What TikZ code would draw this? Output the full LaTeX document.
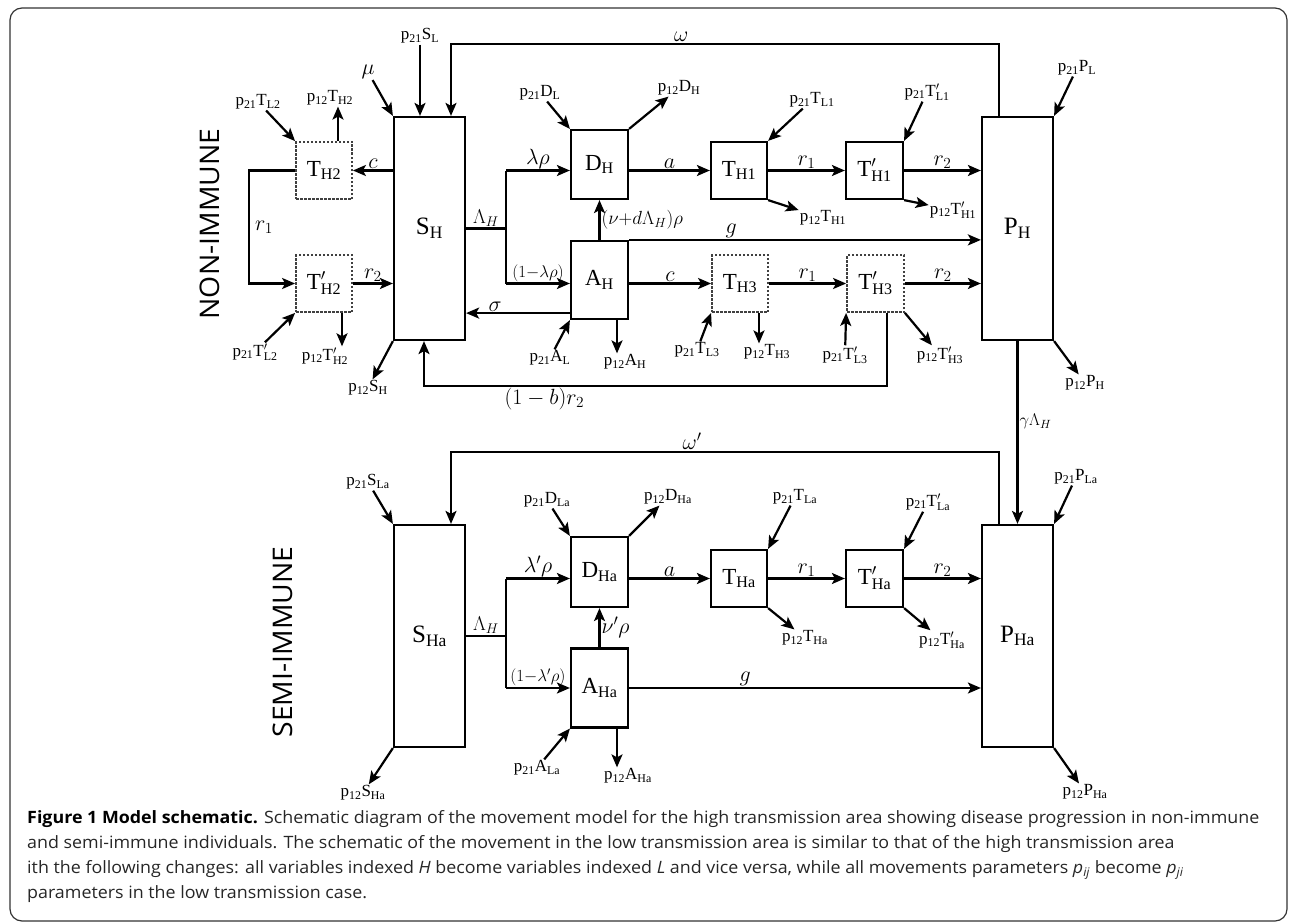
\RequirePackage{fix-cm}
\documentclass[tikz,border=0pt]{standalone}
\usepackage{fontspec}
\setmainfont{Liberation Serif}
\setmathrm{Liberation Serif}
\newfontfamily\capfont[FakeStretch=1.05]{Open Sans}
\usetikzlibrary{arrows.meta, positioning}

\begin{document}
\begin{tikzpicture}[x=1pt, y=-1pt,
        every node/.style={inner sep=1pt},
        box/.style={draw, line width=2.2pt, inner sep=0pt, font=\fontsize{23}{26}\selectfont},
        dbox/.style={box, draw=black!75, line width=1.8pt, dash pattern=on 2.5pt off 1.5pt},
        tall/.style={box, minimum width=71pt, minimum height=223pt, font=\fontsize{25}{28}\selectfont},
        sq/.style={minimum width=57pt, minimum height=57pt},
        arr/.style={-{Stealth[length=13pt, width=11pt, inset=3pt]}, line width=2.2pt},
        ln/.style={line width=2.2pt},
        plab/.style={font=\fontsize{17}{19}\selectfont},
        rate/.style={font=\fontsize{22}{24}\selectfont},
        srate/.style={font=\fontsize{17}{19}\selectfont},
        side/.style={font=\capfont\fontsize{27}{30}\selectfont, rotate=90}
    ]
    \useasboundingbox (0,0) rectangle (1290,923);
    \draw[black!80, line width=1.2pt, rounded corners=12pt] (10,8) rectangle (1287,921);

    % non-immune
    \node[side] (nonimm) at (210,224) {NON-IMMUNE};
    \node[tall] (SH) at (429.5,228.5) {$\mathrm{S_H}$};
    \node[dbox, sq, minimum width=56pt] (TH2) at (324,170.5) {$\mathrm{T_{H2}}$};
    \node[dbox, sq, minimum width=56pt] (TH2p) at (324,283.5) {$\mathrm{T'_{H2}}$};
    \node[box, minimum width=57pt, minimum height=69pt] (DH) at (599.5,164.5) {$\mathrm{D_H}$};
    \node[box, minimum width=57pt, minimum height=78pt] (AH) at (599.5,280) {$\mathrm{A_H}$};
    \node[box, sq, minimum width=56pt] (TH1) at (739,170.5) {$\mathrm{T_{H1}}$};
    \node[box, sq] (TH1p) at (874.5,170.5) {$\mathrm{T'_{H1}}$};
    \node[dbox, sq, minimum width=56pt] (TH3) at (740,283.5) {$\mathrm{T_{H3}}$};
    \node[dbox, sq] (TH3p) at (875.5,283.5) {$\mathrm{T'_{H3}}$};
    \node[tall] (PH) at (1017.5,228.5) {$\mathrm{P_H}$};

    \node[plab] (pSL) at (420,36) {$\mathrm{p_{21}S_L}$};
    \node[rate] (mu) at (368,72) {$\mu$};
    \node[plab] (pTL2) at (258,102) {$\mathrm{p_{21}T_{L2}}$};
    \node[plab] (pTH2) at (330,98) {$\mathrm{p_{12}T_{H2}}$};
    \node[plab] (pTL2p) at (255,352) {$\mathrm{p_{21}T'_{L2}}$};
    \node[plab] (pTH2p) at (325,356) {$\mathrm{p_{12}T'_{H2}}$};
    \node[plab] (pSH) at (368,388) {$\mathrm{p_{12}S_H}$};
    \node[plab] (pDL) at (540,93) {$\mathrm{p_{21}D_L}$};
    \node[plab] (pDH) at (679,88) {$\mathrm{p_{12}D_H}$};
    \node[plab] (pTL1) at (812,100) {$\mathrm{p_{21}T_{L1}}$};
    \node[plab] (pTH1) at (823,218) {$\mathrm{p_{12}T_{H1}}$};
    \node[plab] (pTL1p) at (927,92) {$\mathrm{p_{21}T'_{L1}}$};
    \node[plab] (pTH1p) at (953,210) {$\mathrm{p_{12}T'_{H1}}$};
    \node[plab] (pPL) at (1077,68) {$\mathrm{p_{21}P_L}$};
    \node[plab] (pPH) at (1085,383) {$\mathrm{p_{12}P_H}$};
    \node[plab] (pAL) at (550,358) {$\mathrm{p_{21}A_L}$};
    \node[plab] (pAH) at (625,362) {$\mathrm{p_{12}A_H}$};
    \node[plab] (pTL3) at (697,350) {$\mathrm{p_{21}T_{L3}}$};
    \node[plab] (pTH3) at (767,352) {$\mathrm{p_{12}T_{H3}}$};
    \node[plab] (pTL3p) at (845,355) {$\mathrm{p_{21}T'_{L3}}$};
    \node[plab] (pTH3p) at (940,355) {$\mathrm{p_{12}T'_{H3}}$};

    \draw[arr] (pSL) -- (pSL |- SH.north);
    \draw[arr] (mu) -- (SH.north west);
    \draw[arr] (pTL2) -- (TH2.north west);
    \draw[arr] ([xshift=14pt]TH2.north) -- ([xshift=14pt]TH2.north |- pTH2.south);
    \draw[arr] (pTL2p) -- (TH2p.south west);
    \draw[arr] ([xshift=18pt]TH2p.south) -- ([xshift=18pt]TH2p.south |- pTH2p.north);
    \draw[arr] (SH.south west) -- (pSH);
    \draw[arr] (pDL) -- (DH.north west);
    \draw[arr] (DH.north east) -- (pDH);
    \draw[arr] (pTL1) -- (TH1.north east);
    \draw[arr] (TH1.south east) -- (pTH1);
    \draw[arr] (pTL1p) -- (TH1p.north east);
    \draw[arr] (TH1p.south east) -- (pTH1p);
    \draw[arr] (pPL) -- (PH.north east);
    \draw[arr] (PH.south east) -- (pPH);
    \draw[arr] (pAL) -- (AH.south west);
    \draw[arr] ([xshift=17.5pt]AH.south) -- ([xshift=17.5pt]AH.south |- pAH.north);
    \draw[arr] (pTL3) -- (TH3.south west);
    \draw[arr] ([xshift=19pt]TH3.south) -- ([xshift=19pt]TH3.south |- pTH3.north);
    \draw[arr] (pTL3p) -- (TH3p.south west);
    \draw[arr] (TH3p.south east) -- (pTH3p);

    \draw[arr] (SH.west |- TH2) -- node[rate, above]{$c$} (TH2);
    \draw[arr] (TH2.west) -- ++(-46,0) |- node[rate, pos=0.25, right=4pt]{$r_1$} (TH2p.west);
    \draw[arr] (TH2p.east) -- node[rate, above]{$r_2$} (SH.west |- TH2p.east);
    \draw[arr] ([xshift=-18.5pt]PH.north) -- ++(0,-72) -| node[rate, pos=0.29, above]{$\omega$} ([xshift=21.5pt]SH.north);
    \draw[arr] ([xshift=11.5pt]TH3p.south) -- ++(0,73) -| node[rate, pos=0.37, below]{$(1-b)r_2$} ([xshift=-5.5pt]SH.south);

    \coordinate (splH) at (506,228.5);
    \draw[ln] (SH.east) -- node[above, font=\fontsize{20}{22}\selectfont]{$\Lambda_H$} (splH);
    \draw[ln] (splH |- TH1) -- (splH |- TH3);
    \draw[arr] (splH |- TH1) -- node[rate, above]{$\lambda\rho$} (DH.west |- TH1);
    \draw[arr] (splH |- TH3) -- node[srate, above]{$(1{-}\lambda\rho)$} (AH.west |- TH3);
    \draw[arr] (AH.north) -- node[right, font=\fontsize{19}{21}\selectfont]{$(\nu{+}d\Lambda_H)\rho$} (DH.south);
    \draw[arr] (AH.north east) -- node[rate, above, pos=0.29]{$g$} (PH.west |- AH.north);
    \coordinate (sig) at ([yshift=7pt]AH.south west);
    \draw[arr] (sig) -- node[rate, above, pos=0.72]{$\sigma$} (SH.east |- sig);
    \draw[arr] (DH.east |- TH1) -- node[rate, above]{$a$} (TH1);
    \draw[arr] (TH1) -- node[rate, above]{$r_1$} (TH1p);
    \draw[arr] (TH1p) -- node[rate, above]{$r_2$} (PH.west |- TH1p);
    \draw[arr] (AH.east |- TH3) -- node[rate, above]{$c$} (TH3);
    \draw[arr] (TH3) -- node[rate, above]{$r_1$} (TH3p);
    \draw[arr] (TH3p) -- node[rate, above]{$r_2$} (PH.west |- TH3p);

    % semi-immune
    \node[side] (semimm) at (283,642) {SEMI-IMMUNE};
    \node[tall, minimum height=222pt] (SHa) at (429.5,636) {$\mathrm{S_{Ha}}$};
    \node[box, minimum width=57pt, minimum height=70pt] (DHa) at (599.5,572) {$\mathrm{D_{Ha}}$};
    \node[box, minimum width=57pt, minimum height=79pt] (AHa) at (599.5,688) {$\mathrm{A_{Ha}}$};
    \node[box, sq, minimum width=56pt] (THa) at (739,578.5) {$\mathrm{T_{Ha}}$};
    \node[box, sq] (THap) at (874.5,578.5) {$\mathrm{T'_{Ha}}$};
    \node[tall, minimum height=222pt] (PHa) at (1017.5,636) {$\mathrm{P_{Ha}}$};

    \node[plab] (pSLa) at (368,482) {$\mathrm{p_{21}S_{La}}$};
    \node[plab] (pSHa) at (363,793) {$\mathrm{p_{12}S_{Ha}}$};
    \node[plab] (pDLa) at (547,500) {$\mathrm{p_{21}D_{La}}$};
    \node[plab] (pDHa) at (668,497) {$\mathrm{p_{12}D_{Ha}}$};
    \node[plab] (pTLa) at (795,497) {$\mathrm{p_{21}T_{La}}$};
    \node[plab] (pTHa) at (805,638) {$\mathrm{p_{12}T_{Ha}}$};
    \node[plab] (pTLap) at (928,502) {$\mathrm{p_{21}T'_{La}}$};
    \node[plab] (pTHap) at (942,640) {$\mathrm{p_{12}T'_{Ha}}$};
    \node[plab] (pPLa) at (1076,477) {$\mathrm{p_{21}P_{La}}$};
    \node[plab] (pPHa) at (1085,792) {$\mathrm{p_{12}P_{Ha}}$};
    \node[plab] (pALa) at (537,768) {$\mathrm{p_{21}A_{La}}$};
    \node[plab] (pAHa) at (628,776) {$\mathrm{p_{12}A_{Ha}}$};

    \draw[arr] (pSLa) -- (SHa.north west);
    \draw[arr] (SHa.south west) -- (pSHa);
    \draw[arr] (pDLa) -- (DHa.north west);
    \draw[arr] (DHa.north east) -- (pDHa);
    \draw[arr] (pTLa) -- (THa.north east);
    \draw[arr] (THa.south east) -- (pTHa);
    \draw[arr] (pTLap) -- (THap.north east);
    \draw[arr] (THap.south east) -- (pTHap);
    \draw[arr] (pPLa) -- (PHa.north east);
    \draw[arr] (PHa.south east) -- (pPHa);
    \draw[arr] (pALa) -- (AHa.south west);
    \draw[arr] ([xshift=17.5pt]AHa.south) -- ([xshift=17.5pt]AHa.south |- pAHa.north);

    \draw[arr] (PH.south) -- node[srate, right, pos=0.44]{$\gamma\Lambda_H$} (PHa.north);
    \draw[arr] ([xshift=-18.5pt]PHa.north) -- ++(0,-72) -| node[rate, pos=0.28, above]{$\omega'$} ([xshift=21.5pt]SHa.north);

    \coordinate (splHa) at (506,636);
    \draw[ln] (SHa.east) -- node[above, font=\fontsize{20}{22}\selectfont]{$\Lambda_H$} (splHa);
    \draw[ln] (splHa |- THa) -- (splHa |- AHa);
    \draw[arr] (splHa |- THa) -- node[rate, above]{$\lambda'\rho$} (DHa.west |- THa);
    \draw[arr] (splHa |- AHa) -- node[srate, above]{$(1{-}\lambda'\rho)$} (AHa);
    \draw[arr] (AHa.north) -- node[rate, right]{$\nu'\rho$} (DHa.south);
    \draw[arr] (AHa) -- node[rate, above, pos=0.33]{$g$} (PHa.west |- AHa);
    \draw[arr] (DHa.east |- THa) -- node[rate, above]{$a$} (THa);
    \draw[arr] (THa) -- node[rate, above]{$r_1$} (THap);
    \draw[arr] (THap) -- node[rate, above]{$r_2$} (PHa.west |- THap);

    % caption
    \node[anchor=north west, inner sep=0pt, align=left, text=black!85,
          font=\capfont\fontsize{17}{25}\selectfont] (cap) at (27,810)
        {\textbf{\color{black}Figure 1 Model schematic.} Schematic diagram of the movement model for the high transmission area showing disease progression in non-immune\\
         and semi-immune individuals. The schematic of the movement in the low transmission area is similar to that of the high transmission area\\
         ith the following changes: all variables indexed \textit{H} become variables indexed \textit{L} and vice versa, while all movements parameters \textit{p}\textsubscript{\textit{ij}} become \textit{p}\textsubscript{\textit{ji}}\\
         parameters in the low transmission case.};
\end{tikzpicture}
\end{document}
